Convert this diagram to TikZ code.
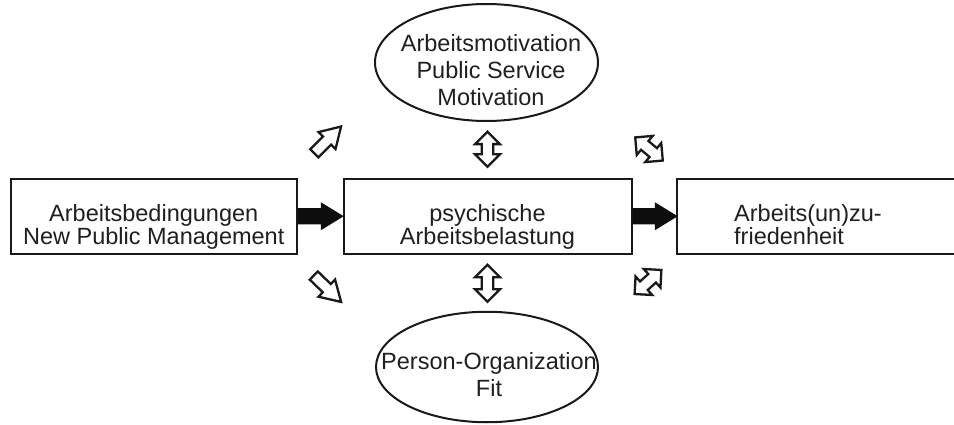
\documentclass[tikz,border=0pt]{standalone}
\usepackage{fontspec}
\setmainfont{Liberation Sans}
\usetikzlibrary{shapes.geometric,shapes.arrows,calc}
\begin{document}
\begin{tikzpicture}[x=1pt,y=-1pt,
  box/.style={draw=black!90,line width=2pt,inner sep=0pt,rectangle},
  oval/.style={draw=black!90,line width=2pt,ellipse,inner sep=0pt},
  lbl/.style={font=\fontsize{23.5}{23}\selectfont,inner sep=0pt,text=black!88},
  olbl/.style={font=\fontsize{23.5}{27.2}\selectfont,inner sep=0pt,text=black!88,align=center},
  solidarrow/.style={single arrow,fill=black!95,draw=none,inner xsep=0pt,inner ysep=8pt,
    minimum width=0pt,single arrow head extend=5.8pt,single arrow tip angle=63,
    single arrow head indent=0pt},
  hollow/.style={single arrow,draw=black!90,fill=white,line width=2.3pt,inner xsep=0pt,
    inner ysep=4.6pt,minimum width=0pt,single arrow head extend=6.2pt,single arrow tip angle=62,
    minimum height=38pt},
  dhollow/.style={double arrow,draw=black!90,fill=white,line width=2.3pt,inner xsep=0pt,
    inner ysep=4.6pt,minimum width=0pt,double arrow head extend=6.7pt,double arrow tip angle=90}
]
\useasboundingbox (0,0) rectangle (954,425);
% boxes
\node[box,minimum width=286.5pt,minimum height=74.5pt] (l) at (153.75,216.25) {};
\node[box,minimum width=288pt,minimum height=74.5pt] (m) at (487.5,216.25) {};
\node[box,minimum width=280.5pt,minimum height=74.5pt] (r) at (816.75,216.25) {};
% ellipses
\node[oval,minimum width=223pt,minimum height=117pt] (e1) at (486.5,62.5) {};
\node[oval,minimum width=222pt,minimum height=110.5pt] (e2) at (487,367) {};
% texts
\node[lbl,align=center] (tl) at (153.75,227) {Arbeitsbedingungen\\New Public Management};
\node[lbl,align=center] (tm) at (487.5,227) {psychische\\Arbeitsbelastung};
\node[lbl,align=left,anchor=west] (tr) at (734,224.5) {Arbeits(un)zu-\\friedenheit};
\node[olbl] (te1) at (491,70.3) {Arbeitsmotivation\\Public Service\\Motivation};
\node[olbl] (te2) at (489,374.4) {Person-Organization\\Fit};
% solid arrows
\node[solidarrow,anchor=tail,minimum height=45.5pt] (s1) at (l.east) {};
\node[solidarrow,anchor=tail,minimum height=45pt] (s2) at (m.east) {};
% hollow single arrows
\node[hollow,rotate=45,anchor=tip] (h1) at (342.7,124.9) {};
\node[hollow,rotate=-44,anchor=tip] (h2) at (342.7,303.5) {};
% hollow double arrows
\node[dhollow,rotate=90,minimum height=35pt] (d1) at (487.5,149.2) {};
\node[dhollow,rotate=90,minimum height=37pt] (d2) at (487.5,283.3) {};
\node[dhollow,rotate=-40,minimum height=36pt] (d3) at (649,149) {};
\node[dhollow,rotate=42,minimum height=36pt] (d4) at (648,282) {};
\end{tikzpicture}
\end{document}
